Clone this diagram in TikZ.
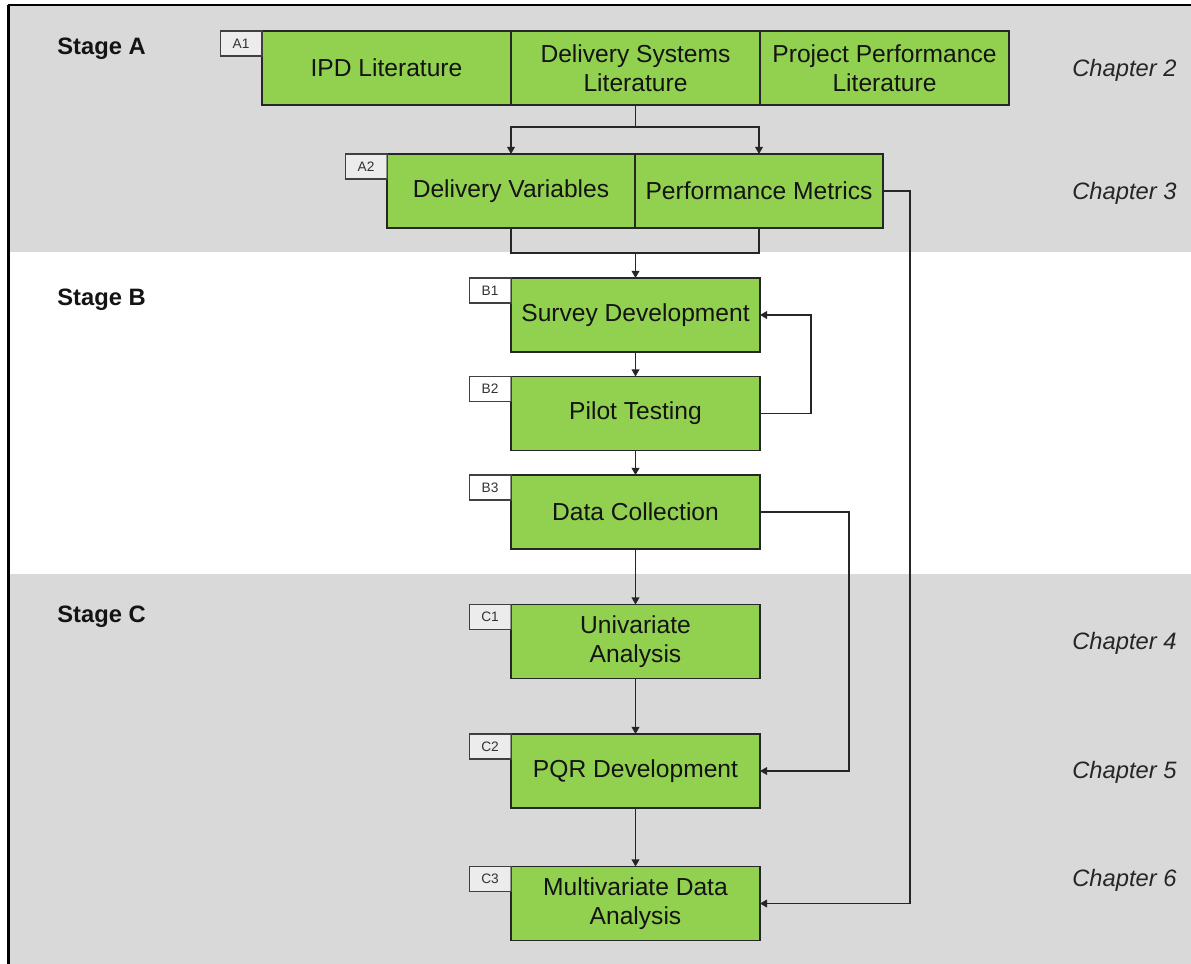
\documentclass[tikz,border=0pt]{standalone}
\usepackage{fontspec}
\setmainfont{Liberation Sans}
\usetikzlibrary{arrows.meta}
\definecolor{bandgray}{HTML}{D9D9D9}
\definecolor{boxgreen}{HTML}{92D050}
\definecolor{inkdark}{HTML}{141414}
\tikzset{
  box/.style={draw=black!85, line width=0.7pt, fill=boxgreen, inner sep=0pt, outer sep=0pt,
    minimum height=1.48cm, text=inkdark, align=center,
    font=\fontsize{14}{16.6}\selectfont},
  wide/.style={minimum width=4.98cm},
  half/.style={minimum width=4.96cm},
  tag/.style={draw=black!75, line width=0.6pt, fill=white, fill opacity=0.5, text opacity=1,
    inner sep=0pt, outer sep=0pt, minimum width=0.84cm, minimum height=0.5cm,
    anchor=north east, text=black!80, font=\fontsize{7.8}{8}\selectfont},
  stagelbl/.style={anchor=base west, inner sep=0pt, font=\fontsize{13.5}{16}\selectfont\bfseries, text=inkdark},
  chaplbl/.style={anchor=base west, inner sep=0pt, font=\fontsize{13.5}{16}\selectfont\itshape, text=black!85},
  link/.style={draw=black!85, line width=0.6pt},
  arr/.style={link, -{Triangle[length=4pt,width=4.4pt]}}
}
\begin{document}
\begin{tikzpicture}[x=0.02cm,y=-0.02cm]
\useasboundingbox (0,0) rectangle (1191,964);
% background bands
\fill[white] (0,0) rectangle (1191,964);
\fill[bandgray] (10,6) rectangle (1191,252);
\fill[bandgray] (10,574) rectangle (1191,964);
% frame lines
\draw[black, line width=1.5pt] (8.7,4.8) -- (8.7,964);
\draw[black, line width=1.0pt] (7.5,4.8) -- (1191,4.8);

% stage and chapter labels
\node[stagelbl] (stA) at (57,54) {Stage A};
\node[stagelbl] (stB) at (57,305) {Stage B};
\node[stagelbl] (stC) at (57,622) {Stage C};
\node[chaplbl] (ch2) at (1072,76) {Chapter 2};
\node[chaplbl] (ch3) at (1072,199) {Chapter 3};
\node[chaplbl] (ch4) at (1072,649.5) {Chapter 4};
\node[chaplbl] (ch5) at (1072,778.5) {Chapter 5};
\node[chaplbl] (ch6) at (1072,886.5) {Chapter 6};

% literature row
\node[box, wide] (ipd) at (386.5,68) {IPD Literature};
\node[box, wide] (dsl) at (635.5,68) {Delivery Systems\\Literature};
\node[box, wide] (ppl) at (884.5,68) {Project Performance\\Literature};
\node[tag] (tA1) at (ipd.north west) {A1};

% variables row
\node[box, half] (dv) at (511,191) {Delivery Variables};
\node[box, half] (pm) at (759,191) {Performance Metrics};
\node[tag] (tA2) at (dv.north west) {A2};

% survey stage
\node[box, wide] (b1) at (635.5,315) {Survey Development};
\node[box, wide] (b2) at (635.5,413.5) {Pilot Testing};
\node[box, wide] (b3) at (635.5,512) {Data Collection};
\node[tag] (tB1) at (b1.north west) {B1};
\node[tag] (tB2) at (b2.north west) {B2};
\node[tag] (tB3) at (b3.north west) {B3};

% analysis stage
\node[box, wide] (c1) at (635.5,641.5) {Univariate\\Analysis};
\node[box, wide] (c2) at (635.5,771) {PQR Development};
\node[box, wide] (c3) at (635.5,903.5) {Multivariate Data\\Analysis};
\node[tag] (tC1) at (c1.north west) {C1};
\node[tag] (tC2) at (c2.north west) {C2};
\node[tag] (tC3) at (c3.north west) {C3};

% connectors
\coordinate (splitA) at (635.5,127);
\coordinate (joinA) at (635.5,253);
\draw[link] (dsl.south) -- (splitA);
\draw[arr] (splitA) -| (dv.north);
\draw[arr] (splitA) -| (pm.north);
\draw[link] (dv.south) |- (joinA);
\draw[link] (pm.south) |- (joinA);
\draw[arr] (joinA) -- (b1.north);
\draw[arr] (b1.south) -- (b2.north);
\draw[arr] (b2.south) -- (b3.north);
\draw[arr] (b3.south) -- (c1.north);
\draw[arr] (c1.south) -- (c2.north);
\draw[arr] (c2.south) -- (c3.north);
\draw[arr] (b2.east) -- ++(51,0) |- (b1.east);
\draw[arr] (b3.east) -- ++(89,0) |- (c2.east);
\draw[arr] (pm.east) -- ++(27,0) |- (c3.east);
\end{tikzpicture}
\end{document}
